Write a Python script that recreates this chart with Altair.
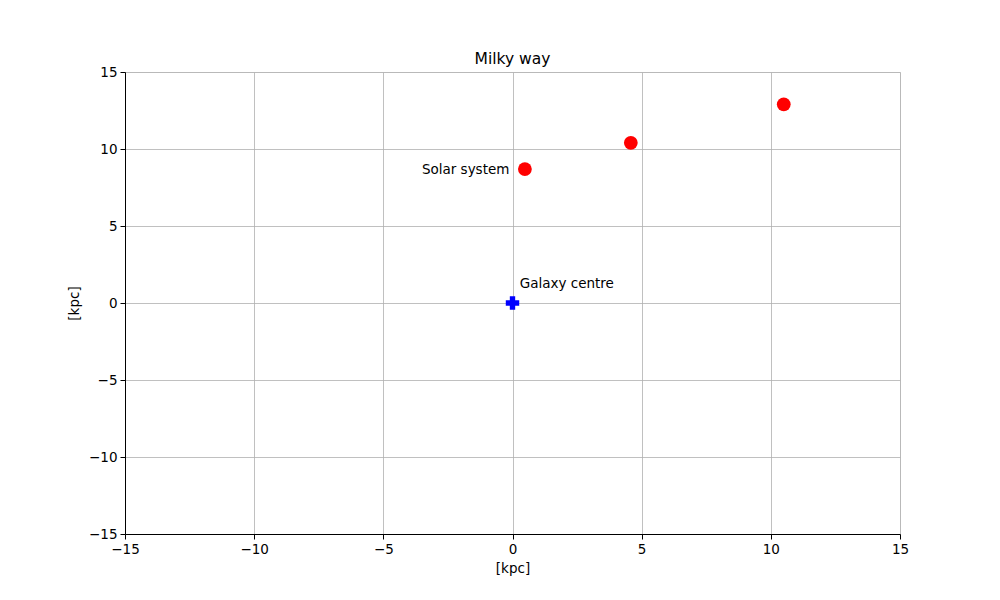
import altair as alt
import pandas as pd

# Data
star_x = [0.48, 4.58, 10.5]
star_y = [8.7, 10.4, 12.9]
centre_x = [0.0]
centre_y = [0.0]
label_text = ["Solar system", "Galaxy centre"]
label_x = [-0.12, 0.28]
label_y = [8.35, 0.95]
label_align = ["right", "left"]

stars = pd.DataFrame({"x": star_x, "y": star_y})
centre = pd.DataFrame({"x": centre_x, "y": centre_y})
labels = pd.DataFrame({"x": label_x, "y": label_y, "t": label_text, "a": label_align})

font = "DejaVu Sans"
xs = alt.Scale(domain=[-15, 15], nice=False, zero=False)
ys = alt.Scale(domain=[-15, 15], nice=False, zero=False)
ticks = [-15, -10, -5, 0, 5, 10, 15]

common = dict(values=ticks, title="[kpc]", grid=True, gridColor="#b0b0b0", gridWidth=0.8,
              domainColor="black", domainWidth=1, tickColor="black", tickSize=5,
              labelFont=font, labelFontSize=13.5, labelColor="black", labelPadding=3,
              titleFont=font, titleFontSize=13.5, titleFontWeight="normal", titleColor="black",
              labelFlush=False)
xax = alt.Axis(titlePadding=6, **common)
yax = alt.Axis(titlePadding=7, **common)

base_x = alt.X("x:Q", scale=xs, axis=xax)
base_y = alt.Y("y:Q", scale=ys, axis=yax)

pts = alt.Chart(stars).mark_point(filled=True, shape="circle", color="red", opacity=1, size=190).encode(
    x=base_x, y=base_y)
cen = alt.Chart(centre).mark_point(filled=True, shape="cross", color="blue", opacity=1, size=180).encode(
    x="x:Q", y="y:Q")
txt_r = alt.Chart(labels[labels.a == "right"]).mark_text(align="right", baseline="alphabetic",
    font=font, fontSize=13.5, color="black").encode(x="x:Q", y="y:Q", text="t:N")
txt_l = alt.Chart(labels[labels.a == "left"]).mark_text(align="left", baseline="alphabetic",
    font=font, fontSize=13.5, color="black").encode(x="x:Q", y="y:Q", text="t:N")

chart = alt.layer(pts, cen, txt_r, txt_l).properties(
    width=775, height=462,
    title=alt.TitleParams("Milky way", font=font, fontSize=15.5, fontWeight="normal", color="black",
                          offset=8, dy=10),
    autosize=alt.AutoSizeParams(type="none"),
    padding={"left": 117, "top": 64, "right": 60, "bottom": 54},
).configure_view(stroke="black", strokeWidth=1).configure(background="white")

chart.save("out.html", embed_options={"renderer": "svg", "actions": False})
